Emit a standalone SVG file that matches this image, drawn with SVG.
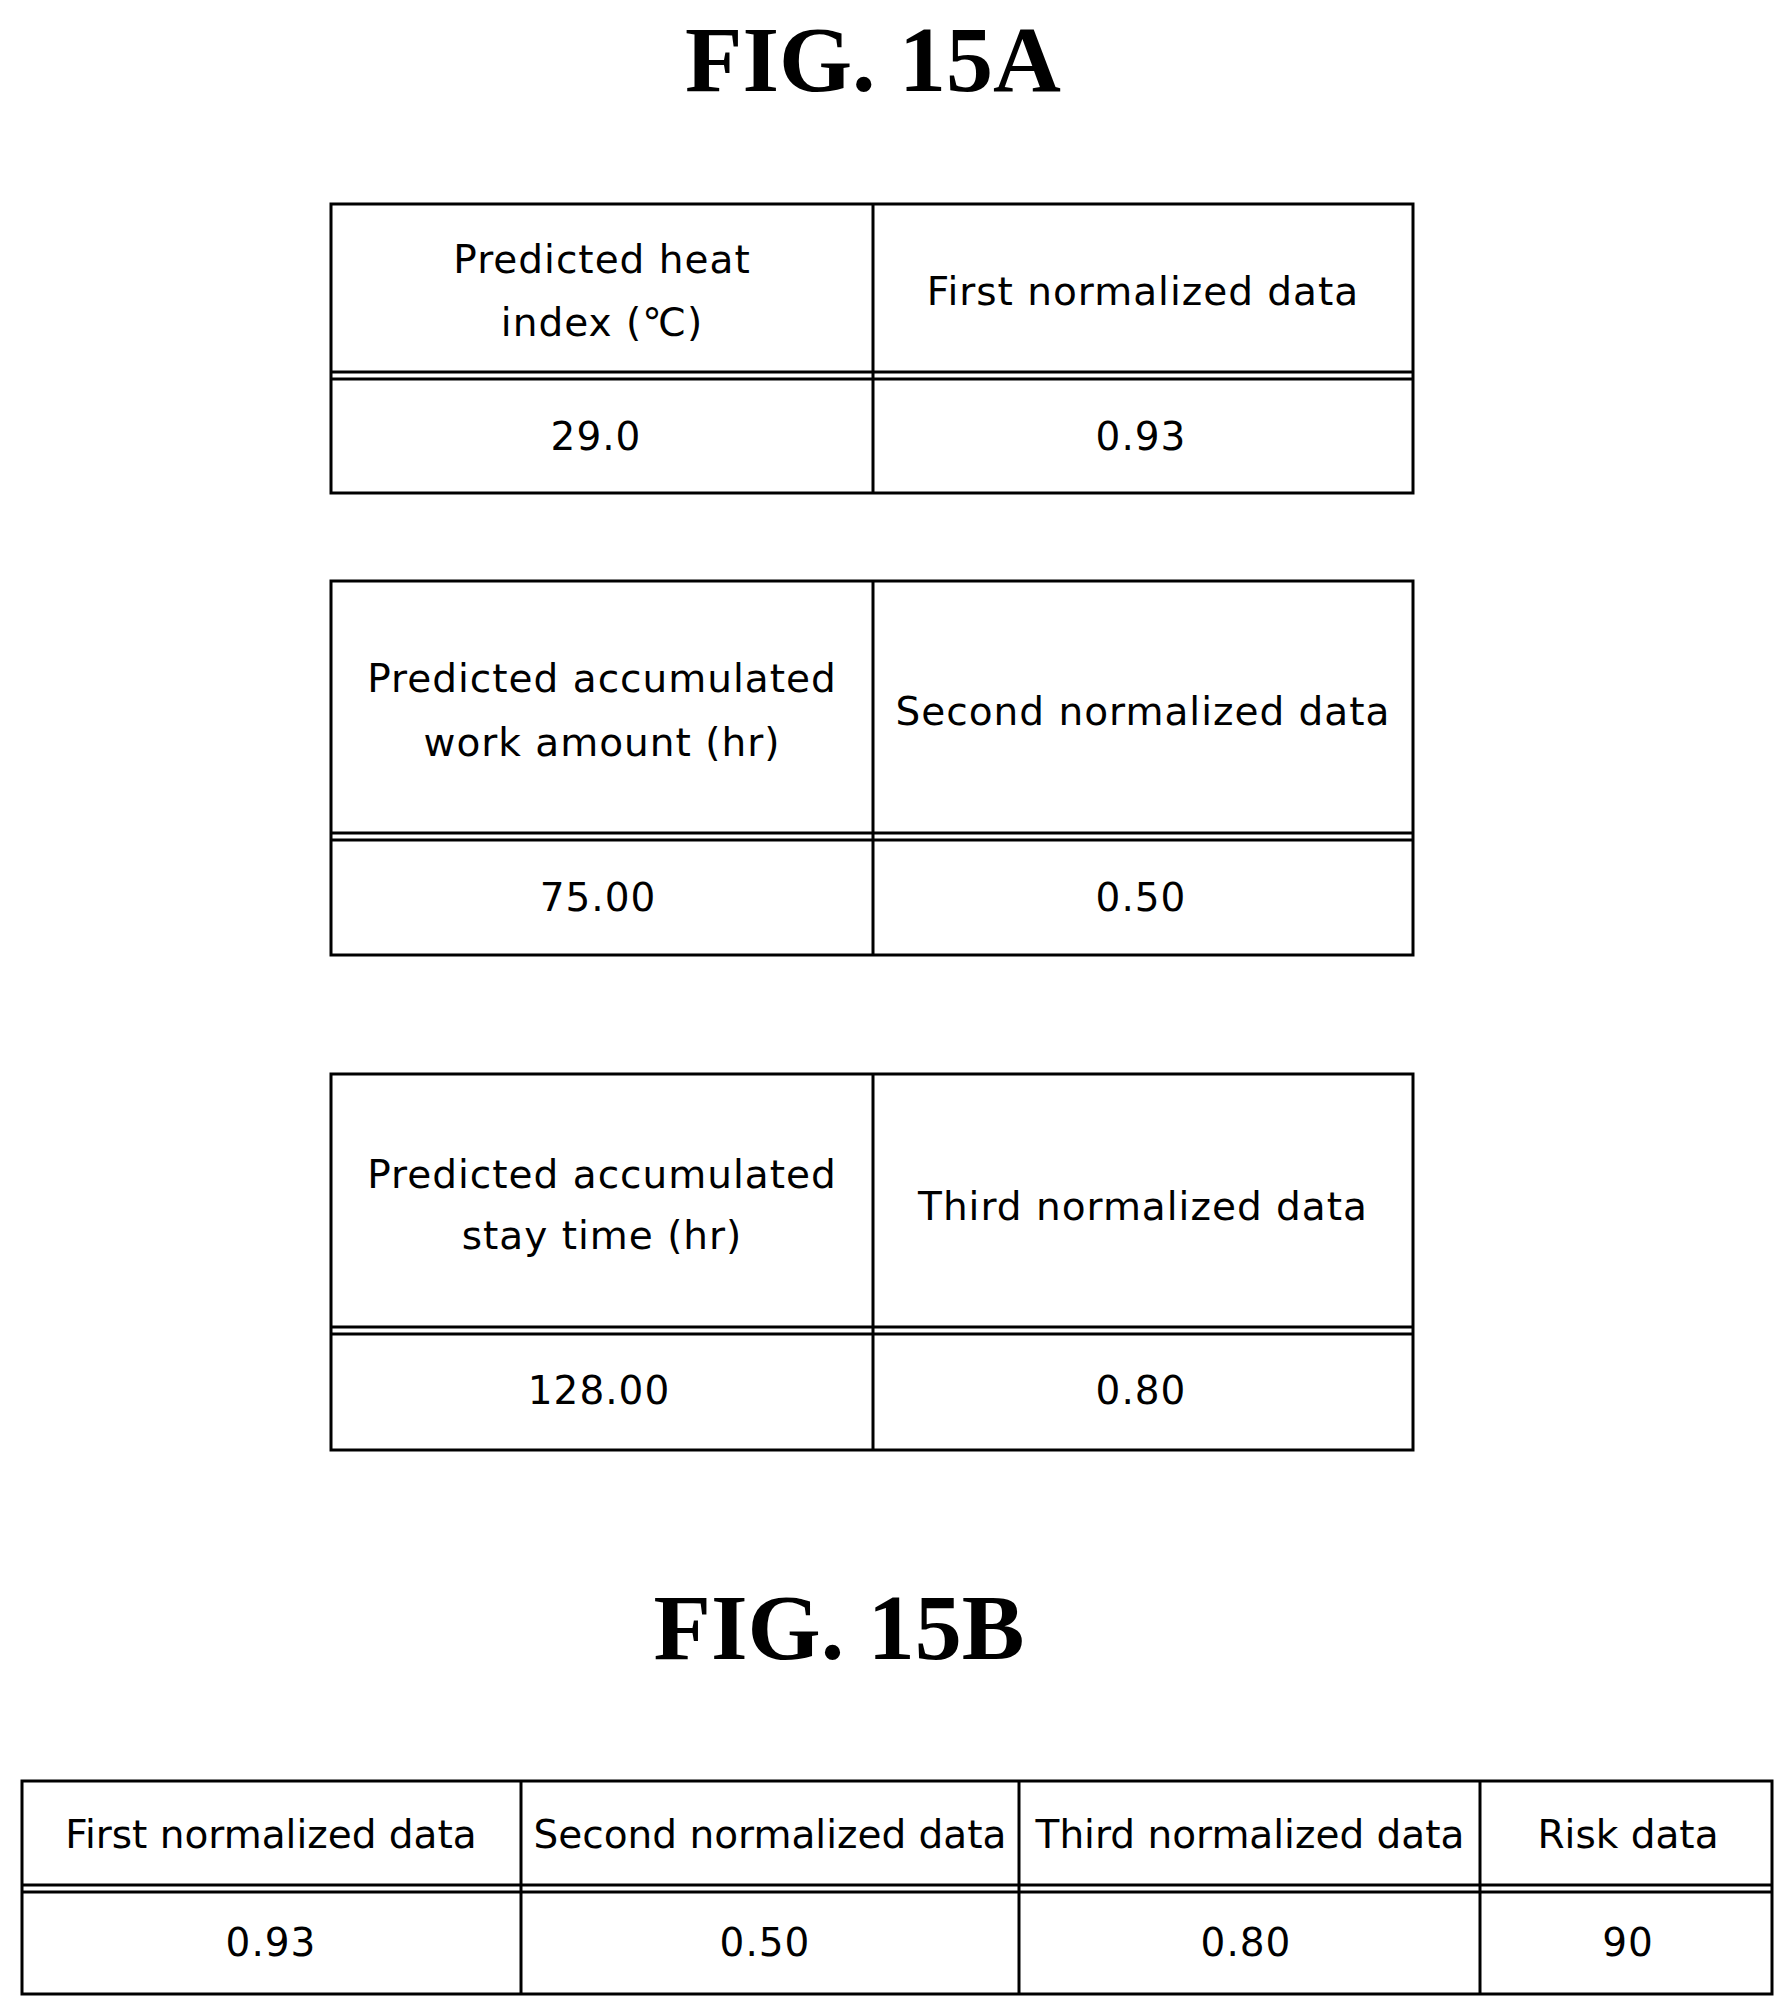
<svg xmlns="http://www.w3.org/2000/svg" width="1789" height="2010" viewBox="0 0 1789 2010">
<style>
.t{font-family:"DejaVu Sans",Verdana,sans-serif;font-size:39px;letter-spacing:1px;text-anchor:middle;fill:#000}
.s{letter-spacing:0px}
.f{font-family:"Liberation Serif","Times New Roman",serif;font-size:94px;font-weight:bold;text-anchor:middle;fill:#000}
.b{fill:none;stroke:#000;stroke-width:3}
</style>
<rect width="1789" height="2010" fill="#fff"/>
<text class="f" x="873" y="91">FIG. 15A</text>
<g id="table1">
<rect class="b" x="331" y="204" width="1082" height="289"/>
<line class="b" x1="873" y1="204" x2="873" y2="493"/>
<line class="b" x1="331" y1="372" x2="1413" y2="372"/>
<line class="b" x1="331" y1="379" x2="1413" y2="379"/>
<text class="t" x="602" y="273">Predicted heat</text>
<text class="t" x="602" y="336">index (℃)</text>
<text class="t" x="1143" y="305">First normalized data</text>
<text class="t" x="596" y="450">29.0</text>
<text class="t" x="1141" y="450">0.93</text>
</g>
<g id="table2">
<rect class="b" x="331" y="581" width="1082" height="374"/>
<line class="b" x1="873" y1="581" x2="873" y2="955"/>
<line class="b" x1="331" y1="833" x2="1413" y2="833"/>
<line class="b" x1="331" y1="840" x2="1413" y2="840"/>
<text class="t" x="602" y="692">Predicted accumulated</text>
<text class="t" x="602" y="756">work amount (hr)</text>
<text class="t" x="1143" y="725">Second normalized data</text>
<text class="t" x="598" y="911">75.00</text>
<text class="t" x="1141" y="911">0.50</text>
</g>
<g id="table3">
<rect class="b" x="331" y="1074" width="1082" height="376"/>
<line class="b" x1="873" y1="1074" x2="873" y2="1450"/>
<line class="b" x1="331" y1="1327" x2="1413" y2="1327"/>
<line class="b" x1="331" y1="1334" x2="1413" y2="1334"/>
<text class="t" x="602" y="1188">Predicted accumulated</text>
<text class="t" x="602" y="1249">stay time (hr)</text>
<text class="t" x="1143" y="1220">Third normalized data</text>
<text class="t" x="599" y="1404">128.00</text>
<text class="t" x="1141" y="1404">0.80</text>
</g>
<text class="f" x="839" y="1659">FIG. 15B</text>
<g id="tableB">
<rect class="b" x="22" y="1781" width="1750" height="213"/>
<line class="b" x1="521" y1="1781" x2="521" y2="1994"/>
<line class="b" x1="1019" y1="1781" x2="1019" y2="1994"/>
<line class="b" x1="1480" y1="1781" x2="1480" y2="1994"/>
<line class="b" x1="22" y1="1885" x2="1772" y2="1885"/>
<line class="b" x1="22" y1="1892" x2="1772" y2="1892"/>
<text class="t s" x="271" y="1848">First normalized data</text>
<text class="t s" x="770" y="1848">Second normalized data</text>
<text class="t s" x="1250" y="1848">Third normalized data</text>
<text class="t s" x="1628" y="1848">Risk data</text>
<text class="t" x="271" y="1956">0.93</text>
<text class="t" x="765" y="1956">0.50</text>
<text class="t" x="1246" y="1956">0.80</text>
<text class="t" x="1628" y="1956">90</text>
</g>
</svg>
